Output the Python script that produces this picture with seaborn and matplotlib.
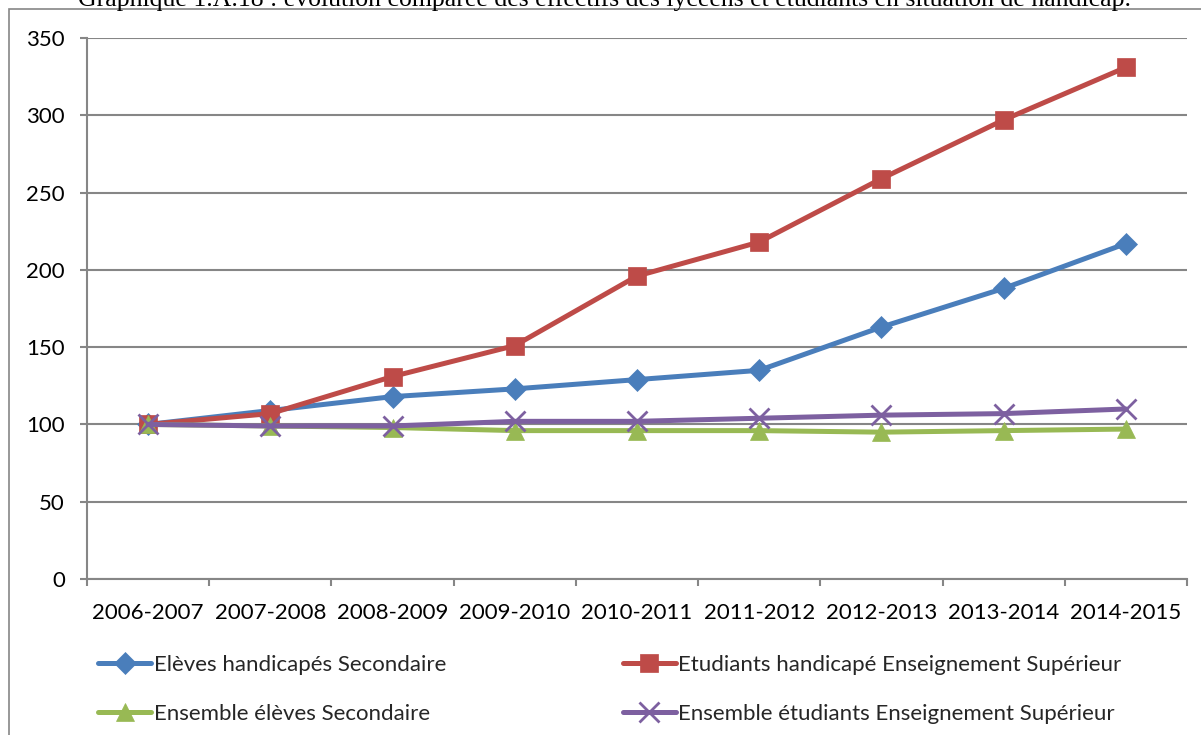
import matplotlib
matplotlib.use("Agg")
import matplotlib.pyplot as plt
import matplotlib.patches as mpatches
from matplotlib.lines import Line2D
import seaborn as sns
import pandas as pd

years = ["2006-2007", "2007-2008", "2008-2009", "2009-2010", "2010-2011",
         "2011-2012", "2012-2013", "2013-2014", "2014-2015"]
eleves_handicapes = [100, 109, 118, 123, 129, 135, 163, 188, 217]
etudiants_handicapes = [100, 107, 131, 151, 196, 218, 259, 297, 331]
ensemble_eleves = [100, 99, 98, 96, 96, 96, 95, 96, 97]
ensemble_etudiants = [100, 99, 99, 102, 102, 104, 106, 107, 110]

series_names = ["Elèves handicapés Secondaire",
                "Etudiants handicapé Enseignement Supérieur",
                "Ensemble élèves Secondaire",
                "Ensemble étudiants Enseignement Supérieur"]
series_values = [eleves_handicapes, etudiants_handicapes, ensemble_eleves, ensemble_etudiants]
colors = ["#4A7EBB", "#BE4B48", "#98B954", "#7D60A0"]
markers = ["D", "s", "^", "x"]
msizes = [11, 13, 13, 14]

title = "Graphique 1.A.18 : évolution comparée des effectifs des lycéens et étudiants en situation de handicap."

rows = []
for name, vals in zip(series_names, series_values):
    for i, v in enumerate(vals):
        rows.append({"serie": name, "pos": i, "annee": years[i], "valeur": v})
df = pd.DataFrame(rows)

sns.set_theme(style="white")
plt.rcParams['font.family'] = ['Lato', 'DejaVu Sans']

fig = plt.figure(figsize=(12.01, 7.35), dpi=100)
W, H = 1201, 735
ax = fig.add_axes([87 / W, 1 - 579 / H, (1187 - 87) / W, (579 - 38) / H])

grey = "#868686"
for name, col, mk, ms in zip(series_names, colors, markers, msizes):
    sub = df[df["serie"] == name]
    sns.lineplot(data=sub, x="pos", y="valeur", ax=ax, color=col, linewidth=3.6,
                 marker=mk, markersize=ms, markeredgecolor=col,
                 markeredgewidth=2.0 if mk == "x" else 0.5, legend=False, zorder=3)

ax.set_xlim(-0.5, len(years) - 0.5)
ax.set_ylim(0, 350)
ax.set_yticks(range(0, 351, 50))
ax.set_xticks(range(len(years)))
ax.set_xticklabels(years)
ax.set_xticks([i - 0.5 for i in range(len(years) + 1)], minor=True)
ax.set_xlabel("")
ax.set_ylabel("")

ax.yaxis.grid(True, color=grey, linewidth=1.5, zorder=0)
ax.xaxis.grid(False)
for side in ["top", "right"]:
    ax.spines[side].set_visible(False)
for side in ["left", "bottom"]:
    ax.spines[side].set_color(grey)
    ax.spines[side].set_linewidth(1.5)

ax.tick_params(axis="y", which="major", left=True, length=5, width=1.5, color=grey,
               labelsize=16, pad=11, labelcolor="black")
ax.tick_params(axis="x", which="major", bottom=False, length=0, labelsize=16, pad=17,
               labelcolor="black")
ax.tick_params(axis="x", which="minor", bottom=True, length=5, width=1.5, color=grey)

handles = [Line2D([0], [0], color=c, linewidth=3.6, marker=m, markersize=s,
                  markeredgecolor=c, markeredgewidth=2.0 if m == "x" else 0.5)
           for c, m, s in zip(colors, markers, msizes)]
order = [0, 2, 1, 3]
leg = fig.legend([handles[i] for i in order], [series_names[i] for i in order],
                 loc="upper left",
                 bbox_to_anchor=(78 / W, 1 - 635 / H), ncol=2, frameon=False,
                 fontsize=16, handlelength=2.4, handletextpad=0.1,
                 columnspacing=7.95, labelspacing=1.3)

border = mpatches.Rectangle((9 / W, -0.1), 1.2, 1.1 - 9 / H, transform=fig.transFigure,
                            fill=False, edgecolor=grey, linewidth=1.2, clip_on=False)
fig.patches.append(border)

fig.text(604 / W, 1 - 6 / H, title, ha="center", va="baseline",
         family=["Liberation Serif", "DejaVu Serif"], fontsize=18.5, color="black")

fig.savefig("out.png", dpi=100)
